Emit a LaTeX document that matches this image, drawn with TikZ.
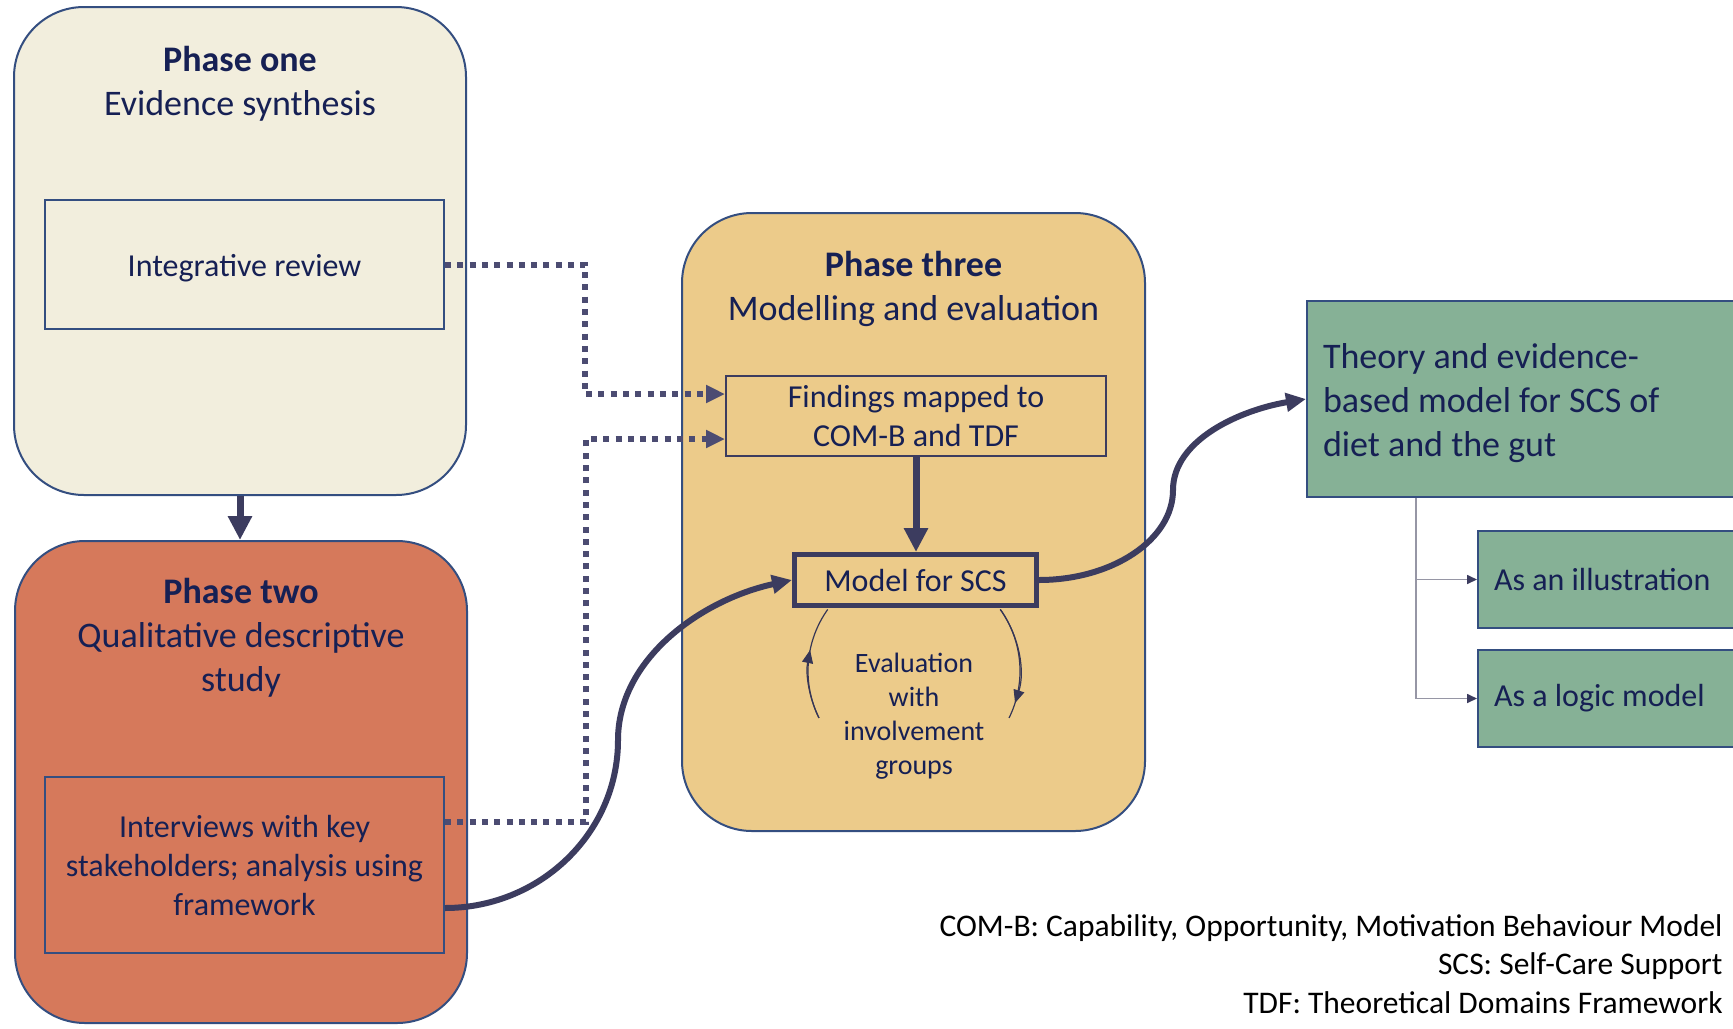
\documentclass[tikz,border=0pt]{standalone}
\usepackage{fontspec}
\setmainfont{Carlito}
\usetikzlibrary{arrows.meta,calc}

\definecolor{creamfill}{RGB}{242,238,221}
\definecolor{rustfill}{RGB}{214,121,91}
\definecolor{sandfill}{RGB}{236,203,138}
\definecolor{sagefill}{RGB}{134,177,150}
\definecolor{edgeblue}{RGB}{52,78,128}
\definecolor{inknavy}{RGB}{22,32,84}
\definecolor{arrowink}{RGB}{60,60,95}
\definecolor{dotink}{RGB}{76,76,114}
\definecolor{greyline}{RGB}{150,150,165}

\tikzset{
  phasebox/.style={draw=edgeblue, line width=1pt, rounded corners=35pt, inner sep=0pt},
  titletext/.style={align=center, text=inknavy, inner sep=0pt,
    font=\fontsize{18}{22}\selectfont},
  innerbox/.style={draw=edgeblue, line width=1pt, inner sep=0pt, align=center,
    text=inknavy, font=\fontsize{16}{19.5}\selectfont},
  stagebox/.style={draw=arrowink, line width=1pt, inner sep=0pt, align=center,
    text=inknavy, font=\fontsize{16}{19.5}\selectfont},
  outbox/.style={draw=edgeblue, line width=1pt, fill=sagefill, inner xsep=8pt,
    inner ysep=0pt, align=flush left, text=inknavy},
  thickarrow/.style={draw=arrowink, line width=3.5pt,
    -{Triangle[length=12pt,width=11.5pt]}},
  wavearrow/.style={draw=arrowink, line width=3pt,
    -{Triangle[length=10pt,width=9pt]}},
  dotconn/.style={draw=dotink, line width=3pt, dash pattern=on 3pt off 3.15pt,
    -{Triangle[length=9.5pt,width=8.5pt]}},
  evalline/.style={draw=arrowink!90!black, line width=0.6pt},
  evaltip/.style={-{Triangle[length=6.5pt,width=5.5pt]}},
  branch/.style={draw=greyline, line width=0.8pt,
    -{Triangle[length=5pt,width=4.5pt,color=arrowink]}},
}

\begin{document}
\begin{tikzpicture}[x=0.5pt, y=-0.5pt]
  \useasboundingbox (0,0) rectangle (1733,1028);
  \fill[white] (0,0) rectangle (1733,1028);

  % phase containers
  \node[phasebox, fill=creamfill, minimum width=226pt, minimum height=244pt]
    (p1) at (240,251) {};
  \node[phasebox, fill=rustfill, minimum width=226pt, minimum height=241pt]
    (p2) at (241,782) {};
  \node[phasebox, fill=sandfill, minimum width=231.5pt, minimum height=309pt]
    (p3) at (913.5,522) {};

  % phase headings
  \node[titletext] (p1title) at (240,83.5) {\textbf{Phase one}\\Evidence synthesis};
  \node[titletext] (p2title) at (241,638) {\textbf{Phase two}\\Qualitative descriptive\\study};
  \node[titletext] (p3title) at (913.5,288.5) {\textbf{Phase three}\\Modelling and evaluation};

  % activities inside the phases
  \node[innerbox, minimum width=199.5pt, minimum height=64.5pt,
    text height=14.5pt, text depth=2.5pt]
    (intrev) at (244.5,264.5) {Integrative review};
  \node[innerbox, minimum width=199.5pt, minimum height=88pt]
    (interviews) at (244.5,865) {Interviews with key\\stakeholders; analysis using\\framework};
  \node[stagebox, minimum width=190pt, minimum height=40pt]
    (findings) at (916,416) {Findings mapped to\\COM-B and TDF};
  \node[stagebox, line width=2.5pt, minimum width=121pt, minimum height=25.5pt]
    (model) at (915.5,580) {Model for SCS};
  \node[align=center, text=inknavy, inner sep=0pt, font=\fontsize{14}{17}\selectfont]
    (evaltext) at (914,716) {Evaluation\\with\\involvement\\groups};

  % outputs
  \node[outbox, minimum width=219pt, minimum height=98pt, text width=203pt,
    font=\fontsize{18}{22}\selectfont]
    (outmodel) at (1526,399) {\rule{0pt}{16.5pt}Theory and evidence-\\based model for SCS of\\diet and the gut};
  \node[outbox, minimum width=133.5pt, minimum height=48.5pt, text width=117.5pt,
    font=\fontsize{16}{19.5}\selectfont]
    (illus) at (1611.5,579.5) {As an illustration};
  \node[outbox, minimum width=133.5pt, minimum height=48.5pt, text width=117.5pt,
    font=\fontsize{16}{19.5}\selectfont]
    (logic) at (1611.5,698.5) {As a logic model};

  % abbreviations
  \node[anchor=east, align=right, inner sep=0pt, font=\fontsize{15.75}{19.2}\selectfont]
    (abbrev) at (1723,964) {COM-B: Capability, Opportunity, Motivation Behaviour Model\\
    SCS: Self-Care Support\\TDF: Theoretical Domains Framework};

  % sequence arrows
  \draw[thickarrow] (p1.south) -- (p1.south |- p2.north);
  \draw[thickarrow] (findings.south) -- (findings.south |- model.north);

  % findings feed the mapping
  \draw[dotconn] (intrev.east) -- ++(140,0) |- ([yshift=11pt]findings.west);
  \draw[dotconn] ([yshift=21.5pt]interviews.east) -- ++(141,0) |- ([yshift=-11.5pt]findings.west);

  % interviews inform the model; the model yields the output
  \coordinate (wave1) at (618,740);
  \coordinate (wave2) at (1173,490);
  \draw[wavearrow] ([yshift=-21.5pt]interviews.east)
    .. controls +(95,0) and (618,833) .. (wave1)
    .. controls (618,660) and (700,600) .. (model.west);
  \draw[wavearrow] (model.east)
    .. controls +(73,0) and (1173,540) .. (wave2)
    .. controls (1173,440) and (1240,410) .. (outmodel.west);

  % evaluation cycle
  \coordinate (evalc) at (914,671);
  \draw[evalline] ($(evalc)+(153.7:106)$) arc[start angle=153.7, end angle=215.5, radius=106];
  \draw[evalline, evaltip] ($(evalc)+(153.7:106)$) arc[start angle=153.7, end angle=191.4, radius=106];
  \draw[evalline] ($(evalc)+(-35.5:106)$) arc[start angle=-35.5, end angle=26.3, radius=106];
  \draw[evalline, evaltip] ($(evalc)+(-35.5:106)$) arc[start angle=-35.5, end angle=17.6, radius=106];

  % output formats
  \draw[branch] ([xshift=-55pt]outmodel.south) |- (illus.west);
  \draw[branch] ([xshift=-55pt]outmodel.south) |- (logic.west);
\end{tikzpicture}
\end{document}
